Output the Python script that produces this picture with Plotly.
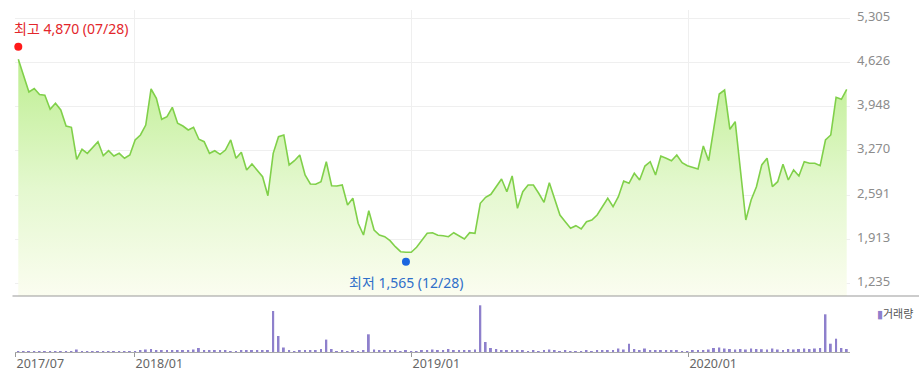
import pandas as pd
import plotly.graph_objects as go

# ---------------- data ----------------
dates = pd.date_range("2017-08-01", periods=157, freq="7D")

price = [
    4678, 4422, 4176, 4229, 4137, 4125, 3910, 4002, 3899, 3653,
    3633, 3141, 3295, 3233, 3326, 3412, 3197, 3273, 3192, 3233,
    3157, 3207, 3438, 3515, 3668, 4222, 4079, 3756, 3796, 3940,
    3695, 3653, 3592, 3633, 3449, 3412, 3233, 3273, 3218, 3284,
    3438, 3157, 3249, 2977, 3069, 2977, 2874, 2582, 3233, 3489,
    3515, 3054, 3120, 3207, 2900, 2762, 2757, 2797, 3104, 2735,
    2730, 2746, 2439, 2542, 2158, 1978, 2351, 2055, 1978, 1952,
    1890, 1798, 1721, 1712, 1712, 1789, 1901, 2004, 2013, 1973,
    1967, 1952, 2013, 1962, 1916, 2013, 2004, 2465, 2557, 2603,
    2720, 2838, 2643, 2885, 2388, 2643, 2746, 2746, 2619, 2480,
    2782, 2516, 2285, 2182, 2081, 2121, 2070, 2182, 2208, 2285,
    2413, 2542, 2413, 2566, 2808, 2772, 2926, 2823, 3038, 3104,
    2900, 3192, 3157, 3120, 3207, 3089, 3043, 3015, 2992, 3346,
    3120, 3633, 4145, 4206, 3602, 3719, 2966, 2208, 2516, 2720,
    3054, 3157, 2720, 2797, 3064, 2823, 2977, 2885, 3104, 3080,
    3080, 3043, 3438, 3515, 4094, 4063, 4217,
]

volume = [
    8, 5, 8, 4, 8, 5, 8, 4, 8, 5,
    8, 25, 3, 3, 3, 8, 8, 8, 8, 3,
    3, 3, 3, 15, 25, 30, 18, 15, 15, 18,
    15, 15, 18, 25, 40, 18, 15, 15, 12, 15,
    10, 5, 12, 15, 15, 18, 20, 20, 410, 160,
    45, 20, 8, 15, 15, 15, 15, 30, 124, 30,
    8, 20, 5, 15, 10, 20, 177, 25, 15, 15,
    15, 12, 5, 12, 5, 10, 20, 15, 25, 15,
    20, 30, 15, 12, 18, 15, 25, 467, 100, 40,
    30, 20, 12, 15, 12, 12, 10, 12, 10, 12,
    25, 12, 10, 12, 10, 5, 5, 12, 10, 12,
    15, 12, 18, 35, 25, 83, 30, 15, 35, 15,
    15, 15, 12, 15, 12, 5, 5, 15, 20, 15,
    25, 40, 45, 35, 30, 25, 30, 25, 35, 30,
    28, 25, 35, 25, 20, 30, 25, 30, 35, 30,
    35, 40, 377, 83, 133, 40, 30,
]

price_ticks = [1235, 1913, 2591, 3270, 3948, 4626, 5305]
x_tick_dates = ["2017-07-28", "2018-01-01", "2019-01-01", "2020-01-01"]
x_tick_labels = ["2017/07", "2018/01", "2019/01", "2020/01"]
grid_dates = ["2018-01-01", "2019-01-01", "2020-01-01"]

hi_idx, hi_value, hi_label = 0, 4870, "최고 4,870 (07/28)"
lo_idx, lo_value, lo_label = 73, 1565, "최저 1,565 (12/28)"
volume_label = "거래량"

# ---------------- style ----------------
FONT = "Noto Sans, Noto Sans CJK KR, sans-serif"
LINE_GREEN = "#80d04a"
VOL_PURPLE = "#8e80cc"
x_range = ["2017-07-27 15:36", "2020-08-01 08:00"]
price_range = [1040, 5436]
price_dom_bottom = 56 / 342

fig = go.Figure()

fig.add_trace(go.Scatter(
    x=dates, y=price, mode="lines",
    line=dict(color=LINE_GREEN, width=1.6),
    fill="tozeroy",
    fillgradient=dict(
        type="vertical", start=price_range[0], stop=4700,
        colorscale=[[0, "#fbfdf0"], [0.45, "#e4f8cf"], [1, "#bdee90"]],
    ),
    xaxis="x", yaxis="y", hoverinfo="skip",
))

fig.add_trace(go.Scatter(
    x=[dates[hi_idx]], y=[hi_value], mode="markers",
    marker=dict(color="#ff1a1a", size=8), xaxis="x", yaxis="y", cliponaxis=False,
))
fig.add_trace(go.Scatter(
    x=[dates[lo_idx]], y=[lo_value], mode="markers",
    marker=dict(color="#1b66e0", size=8), xaxis="x", yaxis="y", cliponaxis=False,
))

fig.add_trace(go.Bar(
    x=dates, y=volume, marker=dict(color=VOL_PURPLE, line=dict(width=0)),
    width=2.6 * 86400000, xaxis="x2", yaxis="y2",
))

fig.update_layout(
    width=919, height=373,
    margin=dict(l=15, r=69, t=10, b=21, autoexpand=False),
    paper_bgcolor="white", plot_bgcolor="white",
    showlegend=False,
    font=dict(family=FONT),
    xaxis=dict(
        domain=[0, 1], anchor="y", range=x_range, type="date",
        showticklabels=False, tickvals=grid_dates, ticks="",
        showgrid=True, gridcolor="#efefef", gridwidth=1,
        zeroline=False, showline=False, automargin=False,
    ),
    yaxis=dict(
        domain=[price_dom_bottom, 1], anchor="x", range=price_range,
        side="right", tickvals=price_ticks,
        ticktext=[f"{v:,}" for v in price_ticks],
        tickfont=dict(size=13, color="#8c8c8c", family=FONT),
        showgrid=True, gridcolor="#efefef", gridwidth=1,
        zeroline=False, showline=False, ticks="",
        ticklabelstandoff=6, ticklabelshift=-2, automargin=False,
    ),
    xaxis2=dict(
        domain=[0, 1], anchor="y2", range=x_range, type="date",
        tickvals=x_tick_dates, ticktext=x_tick_labels,
        ticks="outside", ticklen=4, tickcolor="#999999",
        tickfont=dict(size=12.5, color="#666666", family=FONT),
        ticklabelshift=25, ticklabelstandoff=-4,
        showline=True, linecolor="#aaaaaa", linewidth=1,
        showgrid=False, zeroline=False, automargin=False,
    ),
    yaxis2=dict(
        domain=[0, 54 / 342], anchor="x2", range=[0, 540],
        visible=False, showgrid=False, zeroline=False, automargin=False,
    ),
    shapes=[dict(
        type="line", xref="paper", yref="paper",
        x0=-0.003, x1=(919 - 15) / 835, y0=price_dom_bottom, y1=price_dom_bottom,
        line=dict(color="#999999", width=1),
    )],
    annotations=[
        dict(x=dates[hi_idx], y=hi_value, xref="x", yref="y",
             text=hi_label, showarrow=False, xanchor="left", yanchor="bottom",
             xshift=-6, yshift=7,
             font=dict(size=14, color="#e3262b", family=FONT)),
        dict(x=dates[lo_idx], y=lo_value, xref="x", yref="y",
             text=lo_label, showarrow=False, xanchor="center", yanchor="top",
             yshift=-9,
             font=dict(size=14, color="#2f6fc9", family=FONT)),
        dict(x=(875 - 15) / 835, y=(352 - 313) / 342, xref="paper", yref="paper",
             text=f"<span style='color:{VOL_PURPLE}'>▮</span>{volume_label}",
             showarrow=False, xanchor="left", yanchor="middle",
             font=dict(size=11, color="#555555", family=FONT)),
    ],
)

fig.write_html("out.html")
